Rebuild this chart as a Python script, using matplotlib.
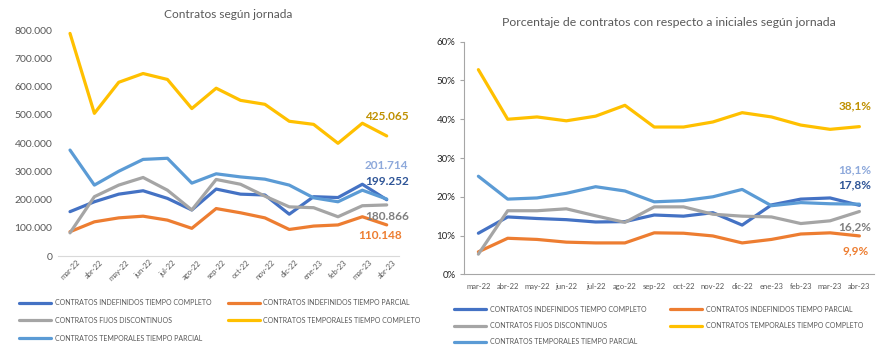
import matplotlib
matplotlib.use("Agg")
import matplotlib.pyplot as plt
from matplotlib.ticker import FuncFormatter, MultipleLocator

plt.rcParams['font.family'] = ['Lato', 'DejaVu Sans']

months = ["mar-22", "abr-22", "may-22", "jun-22", "jul-22", "ago-22", "sep-22",
          "oct-22", "nov-22", "dic-22", "ene-23", "feb-23", "mar-23", "abr-23"]

names = ["CONTRATOS INDEFINIDOS TIEMPO COMPLETO",
         "CONTRATOS INDEFINIDOS TIEMPO PARCIAL",
         "CONTRATOS FIJOS DISCONTINUOS",
         "CONTRATOS TEMPORALES TIEMPO COMPLETO",
         "CONTRATOS TEMPORALES TIEMPO PARCIAL"]

# Left chart: number of contracts
indef_completo = [157000, 192000, 219000, 231000, 204000, 163000, 237000, 219000, 216000, 148000, 210000, 207000, 254000, 199252]
indef_parcial = [86000, 121000, 135000, 141000, 127000, 98000, 168000, 153000, 135000, 94000, 106000, 110000, 139000, 110148]
fijos_disc = [82000, 210000, 251000, 278000, 233000, 163000, 271000, 254000, 212000, 174000, 171000, 139000, 178000, 180866]
temp_completo = [788000, 505000, 615000, 646000, 625000, 522000, 594000, 551000, 537000, 477000, 466000, 399000, 470000, 425065]
temp_parcial = [375000, 251000, 300000, 342000, 346000, 258000, 291000, 280000, 272000, 251000, 206000, 192000, 233000, 201714]

# Right chart: percentage over initial contracts
pct_indef_completo = [10.6, 14.8, 14.4, 14.1, 13.5, 13.6, 15.3, 15.0, 15.9, 12.7, 17.9, 19.4, 19.7, 17.8]
pct_indef_parcial = [5.8, 9.3, 9.0, 8.3, 8.1, 8.1, 10.7, 10.6, 9.9, 8.1, 9.0, 10.4, 10.7, 9.9]
pct_fijos_disc = [5.2, 16.4, 16.4, 16.9, 15.1, 13.4, 17.4, 17.4, 15.5, 15.0, 14.8, 13.1, 13.8, 16.2]
pct_temp_completo = [52.8, 40.0, 40.6, 39.6, 40.8, 43.6, 38.0, 38.0, 39.3, 41.7, 40.6, 38.5, 37.4, 38.1]
pct_temp_parcial = [25.3, 19.4, 19.7, 20.9, 22.6, 21.5, 18.7, 19.0, 20.0, 21.9, 17.7, 18.5, 18.2, 18.1]

line_colors = ["#4472C4", "#ED7D31", "#A5A5A5", "#FFC000", "#5B9BD5"]
label_colors = ["#2F5597", "#ED7D31", "#7F7F7F", "#BF9000", "#8EA9DB"]
# label offsets in points (dx, dy) from last point
left_offsets = [(0, 13), (-5, -7.5), (0, -8), (0, 14), (0, 24.5)]
right_offsets = [(-3, 14.5), (-3, -11), (-3, -11), (-3, 15), (-3, 24.5)]

gray = "#595959"
fig = plt.figure(figsize=(8.87, 3.54), dpi=100)

x = list(range(len(months)))

# ---------------- Left chart ----------------
ax1 = fig.add_axes([0.0652, 0.2768, 0.3845, 0.6384])
left_series = [indef_completo, indef_parcial, fijos_disc, temp_completo, temp_parcial]
lines = []
for s, c, n in zip(left_series, line_colors, names):
    ln, = ax1.plot(x, s, color=c, lw=2.3, label=n, solid_capstyle='round')
    lines.append(ln)
ax1.set_xlim(-0.5, 13.5)
ax1.set_ylim(0, 800000)
ax1.yaxis.set_major_locator(MultipleLocator(100000))
ax1.yaxis.set_major_formatter(FuncFormatter(lambda v, p: "0" if v == 0 else f"{int(v):,}".replace(",", ".")))
ax1.set_xticks(x)
ax1.set_xticklabels(months, rotation=45, fontsize=5.5, color=gray)
ax1.tick_params(axis='y', length=0, labelsize=7.5, labelcolor=gray, pad=4)
ax1.tick_params(axis='x', length=0, pad=2)
for sp in ["top", "right", "left"]:
    ax1.spines[sp].set_visible(False)
ax1.spines["bottom"].set_color("#D9D9D9")
ax1.set_title("Contratos según jornada", fontsize=8.6, color=gray, pad=9)

for s, lc, off in zip(left_series, label_colors, left_offsets):
    v = s[-1]
    ax1.annotate(f"{v:,}".replace(",", "."), xy=(13, v), xytext=off, textcoords="offset points",
                 ha="center", va="center", fontsize=8.5, fontweight="bold", color=lc)

order = [0, 2, 4, 1, 3]
leg1 = ax1.legend([lines[i] for i in order], [names[i] for i in order], ncol=2,
                  loc="upper left", bbox_to_anchor=(-0.121, -0.178), frameon=False,
                  fontsize=5, labelcolor=gray, handlelength=4.6, handletextpad=0.5,
                  columnspacing=2.4, labelspacing=1.55, borderaxespad=0)

# ---------------- Right chart ----------------
ax2 = fig.add_axes([0.5228, 0.2251, 0.4626, 0.657])
right_series = [pct_indef_completo, pct_indef_parcial, pct_fijos_disc, pct_temp_completo, pct_temp_parcial]
lines2 = []
for s, c, n in zip(right_series, line_colors, names):
    ln, = ax2.plot(x, s, color=c, lw=2.3, label=n, solid_capstyle='round')
    lines2.append(ln)
ax2.set_xlim(-0.5, 13.5)
ax2.set_ylim(0, 60)
ax2.yaxis.set_major_locator(MultipleLocator(10))
ax2.yaxis.set_major_formatter(FuncFormatter(lambda v, p: f"{int(v)}%"))
ax2.set_xticks(x)
ax2.set_xticklabels(months, fontsize=5.5, color=gray)
ax2.tick_params(axis='y', length=3, color="#A6A6A6", labelsize=7, labelcolor="#262626", pad=3)
ax2.tick_params(axis='x', length=0, pad=6)
for sp in ["top", "right"]:
    ax2.spines[sp].set_visible(False)
for sp in ["left", "bottom"]:
    ax2.spines[sp].set_color("#A6A6A6")
ax2.set_title("Porcentaje de contratos con respecto a iniciales según jornada", fontsize=8.8,
              color=gray, pad=11)

for s, lc, off in zip(right_series, label_colors, right_offsets):
    v = s[-1]
    ax2.annotate(f"{v:.1f}%".replace(".", ","), xy=(13, v), xytext=off, textcoords="offset points",
                 ha="center", va="center", fontsize=8.5, fontweight="bold", color=lc)

leg2 = ax2.legend([lines2[i] for i in order], [names[i] for i in order], ncol=2,
                  loc="upper left", bbox_to_anchor=(-0.03, -0.123), frameon=False,
                  fontsize=5, labelcolor=gray, handlelength=4.6, handletextpad=0.5,
                  columnspacing=3.44, labelspacing=1.35, borderaxespad=0)

fig.savefig("out.png", dpi=100)
